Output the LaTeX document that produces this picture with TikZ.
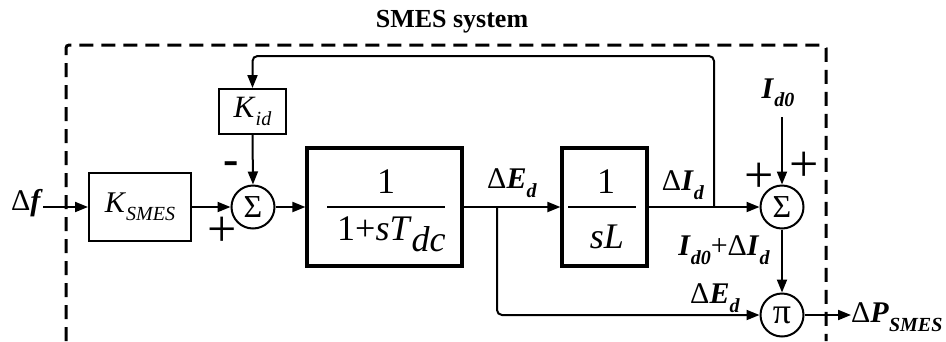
\documentclass[tikz,border=0pt]{standalone}
\usepackage{fontspec}
\setmainfont{Liberation Serif}
\usetikzlibrary{arrows.meta}
\newcommand\fsz[1]{\fontsize{#1}{#1}\selectfont}
\newcommand\bvar[2]{\textbf{\textit{#1}}\raisebox{-0.28em}{\fsz{20}\textbf{\textit{#2}}}}
\newcommand\ivar[2]{\textit{#1}\raisebox{-0.28em}{\fsz{20}\textit{#2}}}
\begin{document}
\begin{tikzpicture}[x=1pt,y=-1pt,
  conn/.style={line width=2pt,-{Triangle[length=13pt,width=10pt]}},
  wire/.style={line width=2pt},
  blk/.style={draw,line width=2pt,inner sep=0pt},
  tfblk/.style={draw,line width=3.2pt,inner sep=0pt},
  sumc/.style={draw,circle,line width=2pt,minimum size=43pt,inner sep=0pt},
  lbl/.style={inner sep=0pt,font=\fsz{30}},
  sgn/.style={inner sep=0pt,font=\fsz{52}},
  frac/.style={inner sep=0pt,font=\fsz{36}},
]
\useasboundingbox (0,0) rectangle (946,341);
\fill[white] (0,0) rectangle (946,341);

% dashed system boundary
\draw[line width=3pt,dash pattern=on 14pt off 8pt,rounded corners=3pt]
  (66,341) -- (66,45) -- (826,45) -- (826,341);
\node[inner sep=0pt,font=\fsz{26}\bfseries] (title) at (452,22) {SMES system};

% blocks
\node[lbl,anchor=east] (df) at (43,203) {Δ\textbf{\textit{f}}};
\node[blk,minimum width=102pt,minimum height=68pt] (ks) at (140,207) {\fsz{30}\ivar{K}{SMES}};
\node[sumc,font=\fsz{32}] (s1) at (253,207) {Σ};
\node[blk,minimum width=67pt,minimum height=45pt] (kid) at (252.5,111.5) {\fsz{31}\ivar{K}{id}};
\node[inner sep=0pt,font=\fsz{46}\bfseries] (m1) at (231,168) {-};
\node[sgn] (p1) at (222,232) {+};

\node[tfblk,minimum width=155pt,minimum height=118pt] (tf1) at (384.5,207) {};
\node[frac,anchor=base] (n1) at (386,193) {1};
\node[frac,anchor=base west] (d1) at (337,240) {1+\textit{sT}\raisebox{-0.33em}{\textit{dc}}};
\draw[wire] (327,207) -- (445,207);

\node[tfblk,minimum width=85pt,minimum height=118pt] (tf2) at (604.5,207) {};
\node[frac,anchor=base] (n2) at (606,193) {1};
\node[frac,anchor=base] (d2) at (607,248) {\textit{sL}};
\draw[wire] (568,207) -- (636,207);

\node[sumc,font=\fsz{32}] (s2) at (782,207) {Σ};
\node[sumc,font=\fsz{36}] (pi) at (782,315) {π};

% labels
\node[lbl] (ed1) at (512,183) {Δ\bvar{E}{d}};
\node[lbl] (di) at (683,185) {Δ\bvar{I}{d}};
\node[lbl] (id0) at (778,93) {\bvar{I}{d0}};
\node[sgn] (p2) at (759,178) {+};
\node[sgn] (p3) at (804,167) {+};
\node[lbl] (sumlbl) at (724,250) {\bvar{I}{d0}+Δ\bvar{I}{d}};
\node[lbl] (ed2) at (715,298) {Δ\bvar{E}{d}};
\node[lbl,anchor=west] (ps) at (851,317) {Δ\bvar{P}{SMES}};

% helper coordinates
\coordinate (fbtap) at (714,207);
\coordinate (fbtop) at (714,56);
\coordinate (br) at (497,207);
\coordinate (id0s) at (782,117);
\coordinate (outp) at (851,315);

% connectors
\draw[conn] (df.east |- ks.west) -- (ks.west);
\draw[conn] (ks.east) -- (s1.west);
\draw[conn] (kid.south) -- (s1.north);
\draw[conn] (s1.east) -- (tf1.west);
\draw[conn] (tf1.east) -- (tf2.west);
\draw[conn] (tf2.east) -- (s2.west);
\draw[conn,rounded corners=5pt] (fbtap) -- (fbtop) -| (kid.north);
\draw[conn,rounded corners=5pt] (br) |- (pi.west);
\draw[conn] (id0s) -- (s2.north);
\draw[conn] (s2.south) -- (pi.north);
\draw[conn] (pi.east) -- (outp);
\end{tikzpicture}
\end{document}
